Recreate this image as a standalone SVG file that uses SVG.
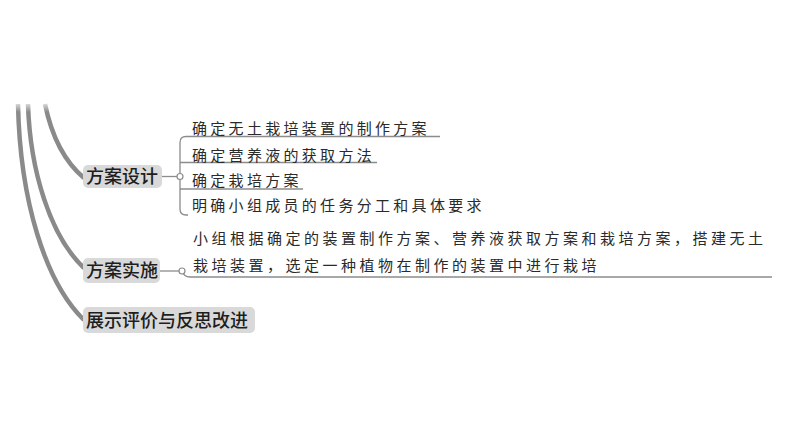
<svg xmlns="http://www.w3.org/2000/svg" width="794" height="447" viewBox="0 0 794 447">
<defs>
<linearGradient id="fade" x1="0" y1="0" x2="0" y2="1">
<stop offset="0" stop-color="#ffffff"/>
<stop offset="1" stop-color="#ffffff" stop-opacity="0"/>
</linearGradient>
</defs>
<style>
.trunk{fill:none;stroke:#8a8a8a;stroke-width:4.5;stroke-linecap:butt}
.ln{fill:none;stroke:#8c8c8c;stroke-width:1.3}
.dot{fill:#ffffff;stroke:#8c8c8c;stroke-width:1.2}
.box{fill:#d9d9d9}
.bt{font-family:"Noto Sans CJK SC","Noto Sans",sans-serif;font-size:18px;fill:#1e1e1e;font-weight:500}
.lt{font-family:"Noto Sans CJK SC","Noto Sans",sans-serif;font-size:15px;fill:#2a2a2a;letter-spacing:3.3px}
.pt{font-family:"Noto Sans CJK SC","Noto Sans",sans-serif;font-size:15px;fill:#2a2a2a;letter-spacing:3.5px}
</style>
<rect width="794" height="447" fill="#ffffff"/>
<g id="connectors">
<path class="trunk" d="M45,104 C52,138 65,162 84,178"/>
<path class="trunk" d="M28,104 C30,170 50,236 84,268"/>
<path class="trunk" d="M18,104 C20,200 45,282 84,320"/>
<rect x="10" y="100" width="45" height="12" fill="url(#fade)"/>
<path class="ln" d="M162,176.5 H177"/>
<path class="ln" d="M440,136.5 H186 Q180,136.5 180,142.5 V209 Q180,215 186,215 H188"/>
<path class="ln" d="M180,162.5 H377"/>
<path class="ln" d="M180,189 H303"/>
<circle class="dot" cx="180" cy="176.5" r="3"/>
<path class="ln" d="M160,271 H179"/>
<path class="ln" d="M182,271 Q184,277 190,277 H772"/>
<circle class="dot" cx="182" cy="271" r="3"/>
</g>
<g id="node-design">
<rect class="box" x="83" y="165" width="79" height="23" rx="5"/>
<text class="bt" x="86" y="183">方案设计</text>
</g>
<g id="item-1"><text class="lt" x="192" y="134">确定无土栽培装置的制作方案</text></g>
<g id="item-2"><text class="lt" x="192" y="160.5">确定营养液的获取方法</text></g>
<g id="item-3"><text class="lt" x="192" y="185.5">确定栽培方案</text></g>
<g id="item-4"><text class="lt" x="192" y="210.5">明确小组成员的任务分工和具体要求</text></g>
<g id="node-implement">
<rect class="box" x="83" y="258" width="77" height="25" rx="5"/>
<text class="bt" x="86" y="277">方案实施</text>
</g>
<g id="item-5">
<text class="pt" x="193" y="244">小组根据确定的装置制作方案、营养液获取方案和栽培方案，搭建无土</text>
<text class="pt" x="193" y="270.5">栽培装置，选定一种植物在制作的装置中进行栽培</text>
</g>
<g id="node-evaluate">
<rect class="box" x="83" y="307" width="172" height="26" rx="5"/>
<text class="bt" x="86" y="327">展示评价与反思改进</text>
</g>
</svg>
